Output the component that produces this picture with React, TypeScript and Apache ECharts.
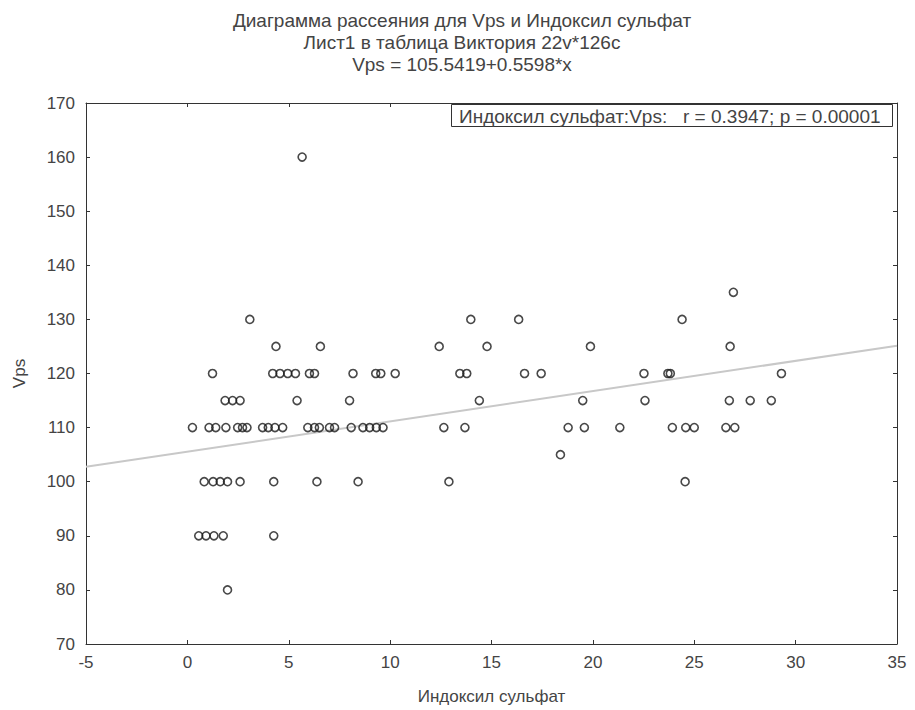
import React, { useEffect, useRef } from "react";
import * as echarts from "echarts";

const TITLE_LINES = [
  "Диаграмма рассеяния для Vps и Индоксил сульфат",
  "Лист1 в таблица Виктория 22v*126c",
  "Vps = 105.5419+0.5598*x",
];
const X_NAME = "Индоксил сульфат";
const Y_NAME = "Vps";
const LEGEND_TEXT = "Индоксил сульфат:Vps:   r = 0.3947; p = 0.00001";

const INTERCEPT = 105.5419;
const SLOPE = 0.5598;

const X_MIN = -5;
const X_MAX = 35;
const X_STEP = 5;
const Y_MIN = 70;
const Y_MAX = 170;
const Y_STEP = 10;

const indoxyl = [
  5.66,
  26.93,
  3.08, 13.98, 16.34, 24.4,
  4.37, 6.56, 12.42, 14.78, 19.88, 26.77,
  1.24, 4.21, 4.57, 4.95, 5.33, 6.02, 6.27, 8.17, 9.29, 9.54, 10.25, 13.44, 13.78, 16.63, 17.45, 22.52, 23.7, 23.82, 29.3,
  1.86, 2.23, 2.6, 5.41, 8.0, 14.4, 19.5, 22.57, 26.73, 27.76, 28.8,
  0.25, 1.07, 1.4, 1.9, 2.48, 2.72, 2.94, 3.71, 3.99, 4.32, 4.7, 5.94, 6.27, 6.51, 7.01, 7.26, 8.08, 8.66, 8.99, 9.32, 9.65, 12.65, 13.69, 18.78, 19.58, 21.33, 23.92, 24.58, 25.0, 26.56, 27.0,
  18.4,
  0.83, 1.27, 1.62, 1.98, 2.6, 4.26, 6.39, 8.42, 12.9, 24.55,
  0.56, 0.92, 1.31, 1.77, 4.26,
  1.98,
];

const vps = [
  160,
  135,
  130, 130, 130, 130,
  125, 125, 125, 125, 125, 125,
  120, 120, 120, 120, 120, 120, 120, 120, 120, 120, 120, 120, 120, 120, 120, 120, 120, 120, 120,
  115, 115, 115, 115, 115, 115, 115, 115, 115, 115, 115,
  110, 110, 110, 110, 110, 110, 110, 110, 110, 110, 110, 110, 110, 110, 110, 110, 110, 110, 110, 110, 110, 110, 110, 110, 110, 110, 110, 110, 110, 110, 110,
  105,
  100, 100, 100, 100, 100, 100, 100, 100, 100, 100,
  90, 90, 90, 90, 90,
  80,
];

const FONT = "'Liberation Sans', Arial, sans-serif";
const TEXT_COLOR = "#444";
const AXIS_COLOR = "#333";

export default function App() {
  const ref = useRef<HTMLDivElement>(null);

  useEffect(() => {
    if (!ref.current) return;
    const chart = echarts.init(ref.current, undefined, { renderer: "svg" });
    const points = indoxyl.map((x, i) => [x, vps[i]]);
    const fitLine = [X_MIN, X_MAX].map((x) => [x, INTERCEPT + SLOPE * x]);

    const axisCommon = {
      axisLine: { show: true, onZero: false, lineStyle: { color: AXIS_COLOR, width: 1 } },
      axisTick: { show: true, inside: true, length: 4, lineStyle: { color: AXIS_COLOR } },
      splitLine: { show: false },
    };

    chart.setOption({
      animation: false,
      backgroundColor: "#fff",
      grid: { left: 86, top: 103, right: 18, bottom: 66, containLabel: false },
      xAxis: [
        {
          type: "value",
          min: X_MIN,
          max: X_MAX,
          interval: X_STEP,
          position: "bottom",
          name: X_NAME,
          nameLocation: "middle",
          nameGap: 44,
          nameTextStyle: { fontSize: 17, fontFamily: FONT, color: TEXT_COLOR },
          axisLabel: { fontSize: 17, fontFamily: FONT, color: TEXT_COLOR, margin: 10 },
          ...axisCommon,
        },
        {
          type: "value",
          min: X_MIN,
          max: X_MAX,
          interval: X_STEP,
          position: "top",
          axisLabel: { show: false },
          ...axisCommon,
        },
      ],
      yAxis: [
        {
          type: "value",
          min: Y_MIN,
          max: Y_MAX,
          interval: Y_STEP,
          position: "left",
          name: Y_NAME,
          nameLocation: "middle",
          nameGap: 58,
          nameRotate: 90,
          nameTextStyle: { fontSize: 17, fontFamily: FONT, color: TEXT_COLOR },
          axisLabel: { fontSize: 17, fontFamily: FONT, color: TEXT_COLOR, margin: 11 },
          ...axisCommon,
        },
        {
          type: "value",
          min: Y_MIN,
          max: Y_MAX,
          interval: Y_STEP,
          position: "right",
          axisLabel: { show: false },
          ...axisCommon,
        },
      ],
      series: [
        {
          type: "line",
          data: fitLine,
          showSymbol: false,
          symbol: "none",
          lineStyle: { color: "#c8c8c8", width: 2 },
          z: 1,
          silent: true,
        },
        {
          type: "scatter",
          data: points,
          symbol: "circle",
          symbolSize: 8,
          itemStyle: { color: "rgba(0,0,0,0)", borderColor: "#1a1a1a", borderWidth: 1.6 },
          z: 2,
        },
      ],
      graphic: [
        ...TITLE_LINES.map((t, i) => ({
          type: "text",
          x: 462,
          y: 20 + i * 22,
          style: {
            text: t,
            fontSize: 19,
            fontFamily: FONT,
            fill: TEXT_COLOR,
            align: "center",
            verticalAlign: "middle",
          },
        })),
        {
          type: "rect",
          shape: { x: 451.5, y: 104.5, width: 441, height: 22 },
          style: { fill: "#fff", stroke: AXIS_COLOR, lineWidth: 1 },
          z: 100,
        },
        {
          type: "text",
          x: 459,
          y: 116,
          z: 101,
          style: {
            text: LEGEND_TEXT,
            fontSize: 19,
            fontFamily: FONT,
            fill: TEXT_COLOR,
            align: "left",
            verticalAlign: "middle",
          },
        },
      ],
    });

    return () => chart.dispose();
  }, []);

  return (
    <div
      ref={ref}
      style={{ position: "fixed", left: 0, top: 0, width: 915, height: 710 }}
    />
  );
}
